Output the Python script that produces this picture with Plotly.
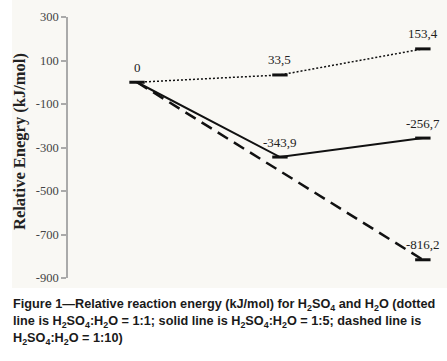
import plotly.graph_objects as go

steps = [0, 1, 2]
dotted_vals = [0, 33.5, 153.4]
solid_vals = [0, -343.9, -256.7]
dashed_vals = [0, None, -816.2]
dotted_labels = ["0", "33,5", "153,4"]
solid_labels = ["", "-343,9", "-256,7"]
dashed_labels = ["", "", "-816,2"]
y_ticks = [300, 100, -100, -300, -500, -700, -900]
y_title = "Relative Enegry (kJ/mol)"
caption_lines = [
    "Figure 1\u2014Relative reaction energy (kJ/mol) for H<sub>2</sub>SO<sub>4</sub> and H<sub>2</sub>O (dotted",
    "line is H<sub>2</sub>SO<sub>4</sub>:H<sub>2</sub>O = 1:1; solid line is H<sub>2</sub>SO<sub>4</sub>:H<sub>2</sub>O = 1:5; dashed line is",
    "H<sub>2</sub>SO<sub>4</sub>:H<sub>2</sub>O = 1:10)",
]

W, H = 447, 361
L, R, T, B = 68, 7, 17, 83
pw, ph = W - L - R, H - T - B

def px(xp):
    return (xp - L) / pw

def py(yp):
    return (H - B - yp) / ph

serif = "Liberation Serif, Times New Roman, serif"
fig = go.Figure()

fig.add_trace(go.Scatter(
    x=steps, y=dashed_vals, mode="lines", connectgaps=True,
    line=dict(color="#111", width=2.5, dash="12px,7px"), showlegend=False))
fig.add_trace(go.Scatter(
    x=steps, y=solid_vals, mode="lines",
    line=dict(color="#111", width=2), showlegend=False))
fig.add_trace(go.Scatter(
    x=steps, y=dotted_vals, mode="lines",
    line=dict(color="#111", width=1.5, dash="2px,2px"), showlegend=False))

mk_x, mk_y = [], []
for vals, labels in [(dotted_vals, dotted_labels), (solid_vals, solid_labels), (dashed_vals, dashed_labels)]:
    for s, v, t in zip(steps, vals, labels):
        if v is None:
            continue
        if s != 0 or vals is dotted_vals:
            mk_x.append(s)
            mk_y.append(v)
        if t:
            fig.add_annotation(x=s, y=v, text=t, showarrow=False, yshift=15,
                               font=dict(family=serif, size=13, color="#222"))

fig.add_trace(go.Scatter(
    x=mk_x, y=mk_y, mode="markers",
    marker=dict(symbol="line-ew", size=11, line=dict(color="#111", width=3)),
    showlegend=False, cliponaxis=False))

fig.add_shape(type="rect", xref="paper", yref="paper",
              x0=px(12), x1=px(447), y0=py(288), y1=py(0),
              fillcolor="#f9f8f4", line=dict(width=0), layer="below")

fig.add_annotation(xref="paper", yref="paper", x=px(19), y=py(142),
                   xanchor="center", yanchor="middle", showarrow=False, textangle=-90,
                   text="<b>" + y_title + "</b>",
                   font=dict(family=serif, size=16.5, color="#222"))

for i, line in enumerate(caption_lines):
    fig.add_annotation(xref="paper", yref="paper", x=px(11), y=py(305 + 17 * i),
                       xanchor="left", yanchor="middle", showarrow=False,
                       text="<b>" + line + "</b>", align="left",
                       font=dict(family="Liberation Sans, Arial, sans-serif", size=12.7, color="#1a1a1a"))

fig.update_layout(
    width=W, height=H,
    margin=dict(l=L, r=R, t=T, b=B),
    paper_bgcolor="white", plot_bgcolor="rgba(0,0,0,0)",
    xaxis=dict(range=[-0.483, 2.12], visible=False, fixedrange=True, automargin=False),
    yaxis=dict(range=[-900, 300], tickvals=y_ticks, ticktext=[str(v) for v in y_ticks],
               automargin=False, fixedrange=True,
               showgrid=False, zeroline=False, showline=True, linecolor="#aaa", linewidth=1.5,
               ticks="outside", ticklen=5, tickcolor="#aaa", tickwidth=1.5,
               tickfont=dict(family=serif, size=12.5, color="#444")),
)
fig.write_html("out.html", config={"displayModeBar": False},
               post_script="document.body.style.margin='0';")
